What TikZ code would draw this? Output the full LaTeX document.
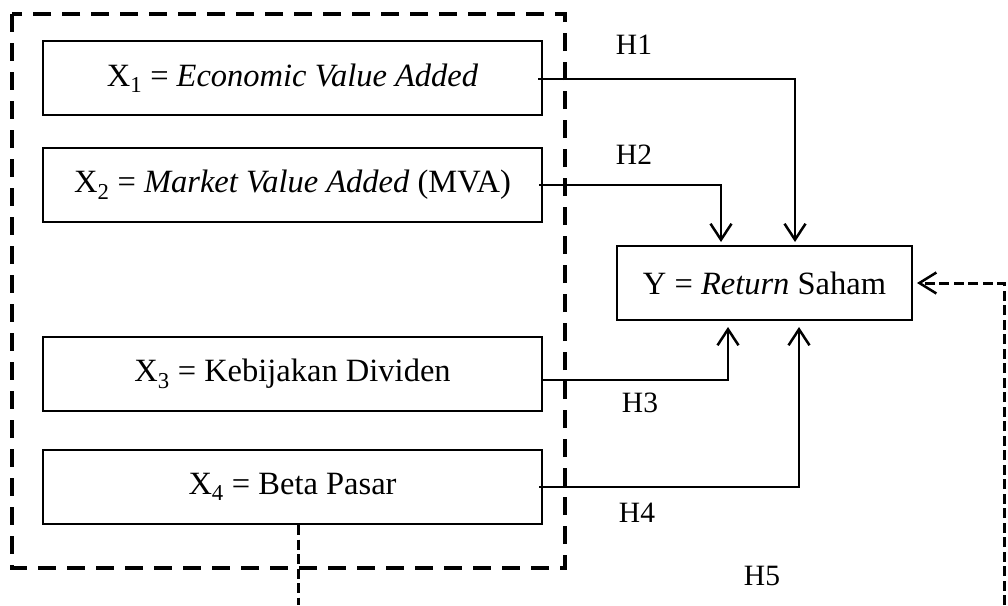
\documentclass[tikz,border=0pt]{standalone}
\usepackage{fontspec}
\setmainfont{Liberation Serif}
\usetikzlibrary{arrows.meta}
\begin{document}
\begin{tikzpicture}[x=1pt,y=-1pt,
  every node/.style={font=\fontsize{29.5}{34}\selectfont, inner sep=0pt},
  boxtext/.style={font=\fontsize{32.5}{38}\selectfont},
  varbox/.style={draw, boxtext, line width=2pt, minimum width=499pt, minimum height=74pt, anchor=north west},
  groupline/.style={line width=4pt, dash pattern=on 18pt off 11pt},
  link/.style={line width=2.5pt, -{Straight Barb[length=16pt,width=21pt,line width=2.5pt]}},
  feedback/.style={line width=3pt, dash pattern=on 10pt off 4.5pt},
  feedbackarrow/.style={feedback, -{Straight Barb[length=17pt,width=21pt,line width=2.5pt]}}
]
\useasboundingbox (0,0) rectangle (1008,605);

% independent variables grouped in a dashed frame
\draw[groupline] (12,14) rectangle (565,568);
\node[varbox] (x1) at (42,40) {X\textsubscript{1} = \textit{Economic Value Added}};
\node[varbox] (x2) at (42,147) {X\textsubscript{2} = \textit{Market Value Added} (MVA)};
\node[varbox] (x3) at (42,336) {X\textsubscript{3} = Kebijakan Dividen};
\node[varbox] (x4) at (42,449) {X\textsubscript{4} = Beta Pasar};

% dependent variable
\node[draw, boxtext, line width=2pt, minimum width=295pt, minimum height=74pt, anchor=north west] (y) at (616,245) {Y = \textit{Return} Saham};

% hypothesis labels
\node (h1) at (634,45) {H1};
\node (h2) at (634,155) {H2};
\node (h3) at (640,403) {H3};
\node (h4) at (637,513) {H4};
\node (h5) at (762,576) {H5};

% partial effects
\draw[link] ([xshift=-5pt,yshift=-1pt]x1.east) -| ([xshift=30.5pt,yshift=3pt]y.north);
\draw[link] ([xshift=-4pt]x2.east) -| ([xshift=-43.5pt,yshift=3pt]y.north);
\draw[link] ([xshift=-2pt,yshift=-6pt]x3.east) -| ([xshift=-36.5pt,yshift=-6pt]y.south);
\draw[link] ([xshift=-4pt]x4.east) -| ([xshift=34.5pt,yshift=-6pt]y.south);

% simultaneous effect (H5)
\coordinate (x4end) at (298,605);
\coordinate (yend) at (1004,605);
\draw[feedback] (x4.south -| x4end) -- (x4end);
\draw[feedbackarrow] (yend) |- ([xshift=4pt]y.east);
\end{tikzpicture}
\end{document}
